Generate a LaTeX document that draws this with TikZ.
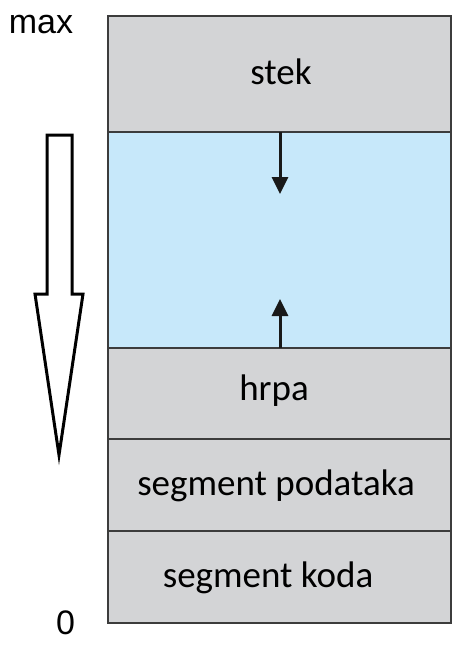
\documentclass[tikz,border=0pt]{standalone}
\usepackage{fontspec}
\setmainfont{Carlito}
\newfontfamily\arialfont{Liberation Sans}
\usetikzlibrary{arrows.meta}
\definecolor{segGray}{RGB}{211,212,214}
\definecolor{segBlue}{RGB}{199,232,250}
\definecolor{segLine}{RGB}{60,60,60}
\tikzset{
  seg/.style={draw=segLine, line width=1.3pt, minimum width=343pt, anchor=north west,
              inner sep=0pt, outer sep=0pt},
  grayseg/.style={seg, fill=segGray},
  blueseg/.style={seg, fill=segBlue},
  seglabel/.style={font=\fontsize{37}{42}\selectfont, anchor=base, inner sep=0pt},
  growarrow/.style={draw=black!90, line width=3pt, -{Triangle[length=17pt,width=16pt]}},
  axislabel/.style={font=\arialfont\fontsize{34}{38}\selectfont, inner sep=0pt, anchor=base},
  hollow/.style={draw=black, line width=3pt, fill=white, line join=miter}
}
\begin{document}
\begin{tikzpicture}[x=1pt,y=-1pt]
\useasboundingbox (0,0) rectangle (474,646);
\fill[white] (0,0) rectangle (474,646);
\node[grayseg, minimum height=116pt] (stek) at (108,16) {};
\node[seglabel] (stekl) at (281,84) {stek};
\node[blueseg, minimum height=216pt] (free) at (108,132) {};
\node[grayseg, minimum height=91pt] (hrpa) at (108,348) {};
\node[seglabel] (hrpal) at (274,400) {hrpa};
\node[grayseg, minimum height=92pt] (pod) at (108,439) {};
\node[seglabel] (podl) at (276,495) {segment podataka};
\node[grayseg, minimum height=92pt] (kod) at (108,531) {};
\node[seglabel] (kodl) at (268,587) {segment koda};
\coordinate (stackend) at (280,194);
\coordinate (heapend) at (280,299);
\draw[growarrow] (stek.south -| stackend) -- (stackend);
\draw[growarrow] (hrpa.north -| heapend) -- (heapend);
\node[axislabel] (max) at (41,33) {max};
\node[axislabel] (zero) at (65.5,634) {0};
\draw[hollow] (47,135) -- (72,135) -- (72,294) -- (83,294) -- (59,455) -- (35,294) -- (47,294) -- cycle;
\end{tikzpicture}
\end{document}
